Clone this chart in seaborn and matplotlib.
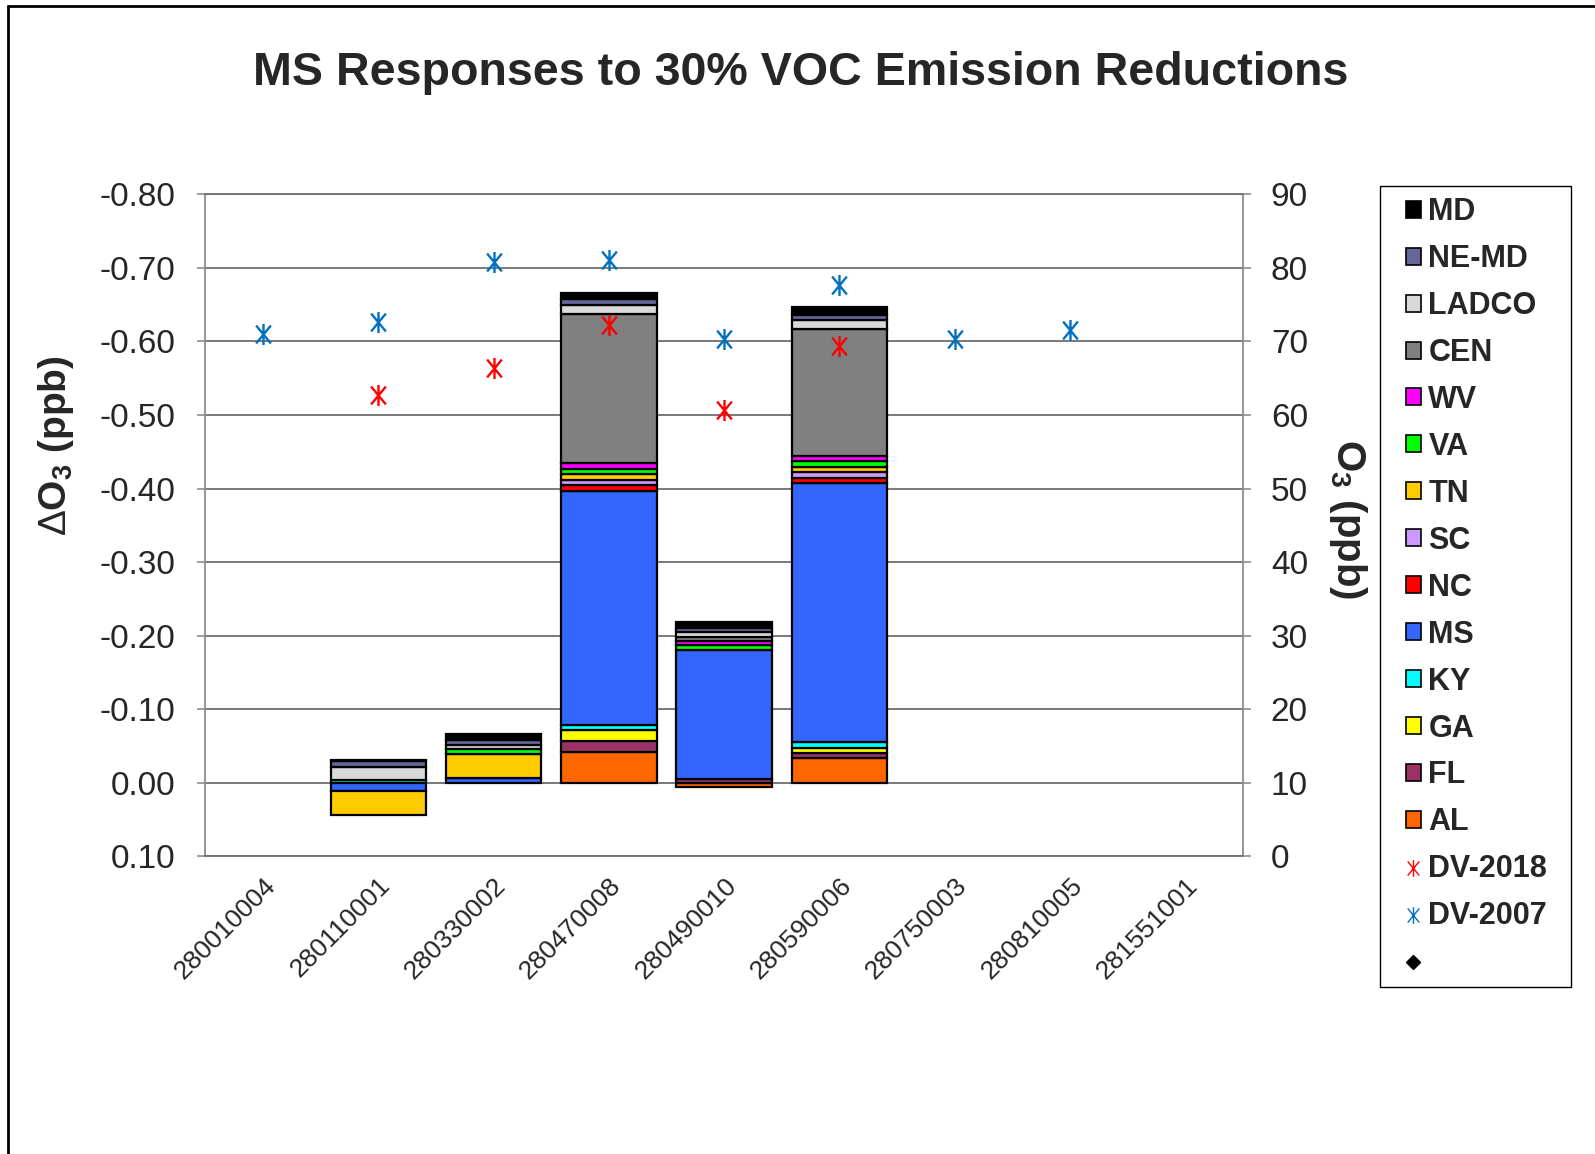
import numpy as np
import matplotlib
matplotlib.use("Agg")
import matplotlib.pyplot as plt
import seaborn as sns
from matplotlib.path import Path
from matplotlib.patches import Patch, Rectangle
from matplotlib.lines import Line2D

# Monitor sites
sites = ["280010004", "280110001", "280330002", "280470008", "280490010",
         "280590006", "280750003", "280810005", "281551001"]

# Ozone response (ppb) by contributing region, stacked in this order
AL    = [0, 0.0,    0.0,    -0.0425, 0.005, -0.034,  0, 0, 0]
FL    = [0, 0.0,    0.0,    -0.014, -0.005, -0.007,  0, 0, 0]
GA    = [0, 0.0,    0.0,    -0.015,  0.0,   -0.006,  0, 0, 0]
KY    = [0, -0.004, 0.0,    -0.0073, 0.0,   -0.0086, 0, 0, 0]
MS    = [0, 0.011, -0.0063, -0.318, -0.176, -0.352,  0, 0, 0]
NC    = [0, 0.0,    0.0,    -0.0075, 0.0,   -0.0074, 0, 0, 0]
SC    = [0, 0.0,    0.0,    -0.0075, 0.0,   -0.0074, 0, 0, 0]
TN    = [0, 0.032, -0.0335, -0.0075, 0.0,   -0.0074, 0, 0, 0]
VA    = [0, 0.0,   -0.006,  -0.0075, -0.006, -0.0074, 0, 0, 0]
WV    = [0, 0.0,    0.0,    -0.0075, -0.006, -0.0074, 0, 0, 0]
CEN   = [0, 0.0,    0.0,    -0.2025, -0.006, -0.173,  0, 0, 0]
LADCO = [0, -0.018, -0.0056, -0.013, -0.006, -0.012,  0, 0, 0]
NE_MD = [0, -0.008, -0.007, -0.0076, -0.006, -0.007,  0, 0, 0]
MD    = [0, -0.001, -0.008, -0.008, -0.008, -0.010,  0, 0, 0]

region_names = ["AL", "FL", "GA", "KY", "MS", "NC", "SC", "TN", "VA", "WV",
                "CEN", "LADCO", "NE-MD", "MD"]
region_values = [AL, FL, GA, KY, MS, NC, SC, TN, VA, WV, CEN, LADCO, NE_MD, MD]
region_colors = ["#FF6600", "#993366", "#FFFF00", "#00FFFF", "#3366FF",
                 "#FF0000", "#CC99FF", "#FFCC00", "#00FF00", "#FF00FF",
                 "#808080", "#D9D9D9", "#666699", "#000000"]

# Design values (ppb)
dv_2018 = [np.nan, 62.7, 66.4, 72.2, 60.7, 69.4, np.nan, np.nan, np.nan]
dv_2007 = [71.0, 72.7, 80.8, 81.1, 70.3, 77.7, 70.3, 71.6, np.nan]

sns.set_style("white")
plt.rcParams["font.family"] = ["Liberation Sans", "DejaVu Sans"]
plt.rcParams["mathtext.fontset"] = "custom"
plt.rcParams["mathtext.rm"] = "Liberation Sans"
plt.rcParams["mathtext.bf"] = "Liberation Sans:bold"

W, H = 1595, 1154
fig = plt.figure(figsize=(W / 100, H / 100), dpi=100)
ax = fig.add_axes([0.1288, 0.2578, 0.6505, 0.5738])

x = np.arange(len(sites))
pos_base = np.zeros(len(sites))
neg_base = np.zeros(len(sites))
for name, vals, col in zip(region_names, region_values, region_colors):
    v = np.asarray(vals, dtype=float)
    bottoms = np.where(v >= 0, pos_base, neg_base)
    keep = v != 0
    ax.bar(x[keep], v[keep], bottom=bottoms[keep], width=0.83, color=col,
           edgecolor="black", linewidth=1.6, zorder=2)
    pos_base += np.clip(v, 0, None)
    neg_base += np.clip(v, None, 0)

grid_col = "#6e6e6e"
ax.set_xlim(-0.5, len(sites) - 0.5)
ax.set_ylim(0.1, -0.8)
yt = np.round(np.arange(-0.8, 0.101, 0.1), 2)
ax.set_yticks(yt)
ax.set_yticklabels([f"{abs(t):.2f}" if abs(t) < 1e-9 or t > 0 else f"{t:.2f}" for t in yt],
                   fontsize=24)
ax.yaxis.grid(True, color=grid_col, linewidth=1.3, zorder=0)
ax.set_axisbelow(True)
ax.set_xticks(x)
ax.set_xticklabels(sites, rotation=45, ha="right", rotation_mode="anchor", fontsize=19)
ax.tick_params(axis="x", length=0, pad=12)
ax.tick_params(axis="y", length=6, width=1.2, color="#8c8c8c", pad=16)
for s in ["left", "right"]:
    ax.spines[s].set_color("#8c8c8c")
    ax.spines[s].set_linewidth(1.3)
for s in ["top", "bottom"]:
    ax.spines[s].set_color(grid_col)
    ax.spines[s].set_linewidth(1.3)

ax2 = ax.twinx()
ax2.set_ylim(0, 90)
ax2.set_yticks(np.arange(0, 91, 10))
ax2.tick_params(axis="y", length=6, width=1.2, color="#8c8c8c", labelsize=24, pad=14)
for s in ax2.spines.values():
    s.set_visible(False)

# Asterisk marker: vertical stroke plus a tall X
star = Path([(0, -1), (0, 1), (-0.7, -0.85), (0.7, 0.85), (-0.7, 0.85), (0.7, -0.85)],
            [Path.MOVETO, Path.LINETO, Path.MOVETO, Path.LINETO, Path.MOVETO, Path.LINETO])

sns.scatterplot(x=x, y=dv_2018, ax=ax2, marker=star, s=230, color="#FF0000",
                edgecolor="#FF0000", linewidth=1.7, zorder=5)
sns.scatterplot(x=x, y=dv_2007, ax=ax2, marker=star, s=230, color="#0070C0",
                edgecolor="#0070C0", linewidth=1.7, zorder=5)

ax.text(-0.144, 0.621, r"$\Delta\mathbf{O}_\mathbf{3}$ (ppb)", transform=ax.transAxes,
        rotation=90, ha="center", va="center", fontsize=28, fontweight="bold")
ax.text(1.101, 0.510, r"$\mathbf{O}_\mathbf{3}$ (ppb)", transform=ax.transAxes,
        rotation=270, ha="center", va="center", fontsize=29, fontweight="bold")

fig.text(0.502, 0.937, "MS Responses to 30% VOC Emission Reductions",
         ha="center", va="center", fontsize=33.6, fontweight="bold")

# Legend, topmost stack layer first
handles = [Patch(facecolor=c, edgecolor="black", linewidth=1.2)
           for c in region_colors[::-1]]
labels = region_names[::-1]
handles += [Line2D([], [], linestyle="none", marker=star, markersize=12,
                   color="#FF0000", markeredgewidth=1.0),
            Line2D([], [], linestyle="none", marker=star, markersize=12,
                   color="#0070C0", markeredgewidth=1.0),
            Line2D([], [], linestyle="none", marker="D", markersize=7, color="black")]
labels += ["DV-2018", "DV-2007", ""]
leg = fig.legend(handles, labels, loc="upper left",
                 bbox_to_anchor=(1406 / W, 1 - 197 / H),
                 prop={"weight": "bold", "size": 22},
                 frameon=False, handlelength=0.48, handleheight=0.48,
                 handletextpad=0.25, labelspacing=0.555, borderpad=0,
                 borderaxespad=0)

# Legend frame
fig.add_artist(Rectangle((1380 / W, 1 - 987 / H), 191 / W, 801 / H,
                         transform=fig.transFigure, fill=False,
                         edgecolor="black", linewidth=1.0))

# Outer chart frame (top and left edges)
fig.add_artist(Line2D([8 / W, 1.0], [1 - 6 / H] * 2, color="black", lw=2,
                      transform=fig.transFigure))
fig.add_artist(Line2D([8 / W] * 2, [0, 1 - 6 / H], color="black", lw=2,
                      transform=fig.transFigure))

fig.savefig("out.png", dpi=100)
